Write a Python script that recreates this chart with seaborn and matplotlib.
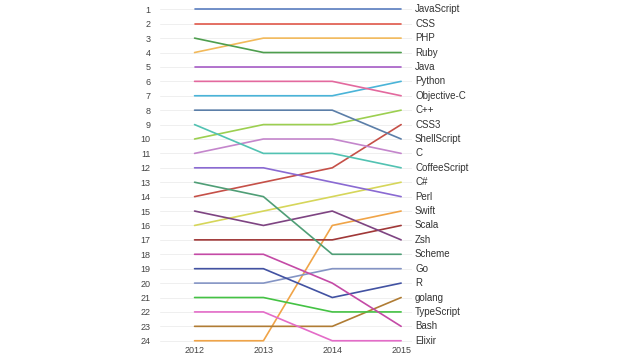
import pandas as pd
import matplotlib
matplotlib.use("Agg")
import matplotlib.pyplot as plt
import seaborn as sns

# Yearly rank of each language (2012, 2013, 2014, 2015)
years = [2012, 2013, 2014, 2015]
languages = [
    "JavaScript", "CSS", "PHP", "Ruby", "Java", "Python", "Objective-C",
    "C++", "CSS3", "ShellScript", "C", "CoffeeScript", "C#", "Perl",
    "Swift", "Scala", "Zsh", "Scheme", "Go", "R", "golang", "TypeScript",
    "Bash", "Elixir",
]
ranks = {
    "JavaScript": [1, 1, 1, 1],
    "CSS": [2, 2, 2, 2],
    "PHP": [4, 3, 3, 3],
    "Ruby": [3, 4, 4, 4],
    "Java": [5, 5, 5, 5],
    "Python": [7, 7, 7, 6],
    "Objective-C": [6, 6, 6, 7],
    "C++": [10, 9, 9, 8],
    "CSS3": [14, 13, 12, 9],
    "ShellScript": [8, 8, 8, 10],
    "C": [11, 10, 10, 11],
    "CoffeeScript": [9, 11, 11, 12],
    "C#": [16, 15, 14, 13],
    "Perl": [12, 12, 13, 14],
    "Swift": [24, 24, 16, 15],
    "Scala": [17, 17, 17, 16],
    "Zsh": [15, 16, 15, 17],
    "Scheme": [13, 14, 18, 18],
    "Go": [20, 20, 19, 19],
    "R": [19, 19, 21, 20],
    "golang": [23, 23, 23, 21],
    "TypeScript": [21, 21, 22, 22],
    "Bash": [18, 18, 20, 23],
    "Elixir": [22, 22, 24, 24],
}
colors = [
    "#5a7dbf", "#e0584a", "#f2b95a", "#4e9e4e", "#a65cc6", "#4ab4d8",
    "#e3699e", "#9ccf50", "#c55048", "#5b7ea8", "#c486cc", "#52c2b2",
    "#d6d65a", "#8a6ad2", "#f0a448", "#a03838", "#7e4482", "#4f9e76",
    "#8494c4", "#4252a2", "#b07c34", "#44c244", "#c44aa6", "#e46cc8",
]

rows = []
for lang in languages:
    for yr, rk in zip(years, ranks[lang]):
        rows.append({"year": yr, "rank": rk, "language": lang})
df = pd.DataFrame(rows)

sns.set_style("white")
plt.rcParams["font.family"] = ["Liberation Sans", "DejaVu Sans"]

fig = plt.figure(figsize=(6.38, 3.59), dpi=100)
ax = fig.add_axes([0.251, 0.04, 0.395, 0.96])

# faint horizontal guides, one per rank
for r in range(1, 25):
    ax.axhline(r, color="#ececec", lw=0.6, zorder=0)

sns.lineplot(
    data=df, x="year", y="rank", hue="language",
    palette=dict(zip(languages, colors)), linewidth=1.2,
    legend=False, ax=ax,
)

# labels on the right, in 2015 order
for lang in languages:
    ax.annotate(lang, xy=(years[-1], ranks[lang][-1]), xytext=(10, 0),
                textcoords="offset points", va="center", ha="left",
                fontsize=7, color="#333333", annotation_clip=False)

ax.set_xlim(2011.5, 2015.16)
ax.set_ylim(24.27, 0.355)
ax.set_xticks(years)
ax.set_xticklabels([str(y) for y in years])
ax.set_yticks(range(1, 25))
ax.tick_params(axis="both", length=0, labelsize=6.5, labelcolor="#444444")
ax.tick_params(axis="x", pad=1)
ax.tick_params(axis="y", pad=7)
ax.set_xlabel("")
ax.set_ylabel("")
for s in ax.spines.values():
    s.set_visible(False)

fig.savefig("out.png", dpi=100)
